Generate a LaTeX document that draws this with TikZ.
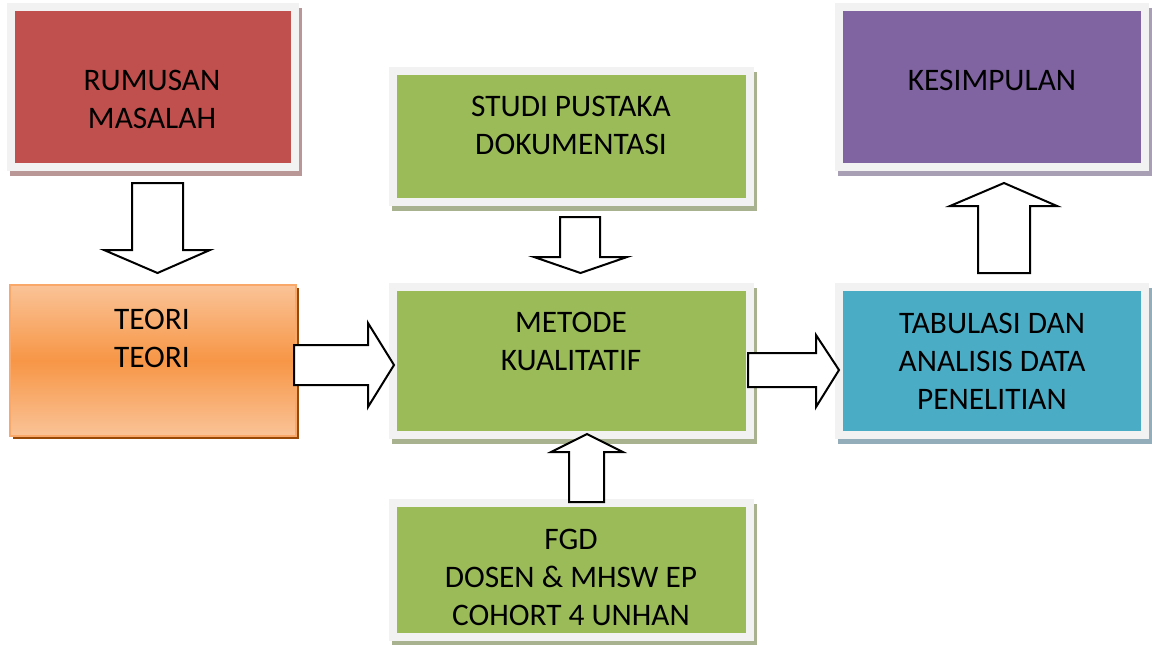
\documentclass[tikz,border=0pt]{standalone}
\usepackage{fontspec}
\setmainfont{Carlito}
\definecolor{cred}{HTML}{C0504D}
\definecolor{cgreen}{HTML}{9BBB59}
\definecolor{cblue}{HTML}{4BACC6}
\definecolor{cpurple}{HTML}{8064A2}
\definecolor{cframe}{HTML}{F2F2F2}
\definecolor{corange}{HTML}{F79646}
\definecolor{clorange}{HTML}{FAC397}
\definecolor{cborder}{HTML}{F9A86A}
\definecolor{cbrown}{HTML}{984807}
\definecolor{sred}{HTML}{B99797}
\definecolor{sgreen}{HTML}{A9B28F}
\definecolor{sblue}{HTML}{94ADBA}
\definecolor{spurple}{HTML}{A89FB4}
\begin{document}
\begin{tikzpicture}[x=0.75pt,y=-0.75pt,
  framebox/.style={rectangle, draw=cframe, line width=6pt, inner sep=0pt,
    preaction={draw=#1, fill=#1, line width=6pt, transform canvas={shift={(2.5pt,-3.5pt)}}}},
  txt/.style={align=center, font=\fontsize{23.5}{28.5}\selectfont, inner sep=0pt},
  blockarrow/.style={draw=black, fill=white, line width=1.5pt, line join=miter}]
\useasboundingbox (0,0) rectangle (1152,644);
% boxes
\node[framebox=sred, fill=cred, minimum width=284*0.75pt, minimum height=160*0.75pt] (rumusan) at (153,87) {};
\node[framebox=spurple, fill=cpurple, minimum width=306*0.75pt, minimum height=160*0.75pt] (kesimpulan) at (992,87) {};
\node[framebox=sgreen, fill=cgreen, minimum width=357*0.75pt, minimum height=131*0.75pt] (studi) at (571.5,136.5) {};
\node[framebox=sgreen, fill=cgreen, minimum width=357*0.75pt, minimum height=148*0.75pt] (metode) at (571.5,361) {};
\node[framebox=sgreen, fill=cgreen, minimum width=357*0.75pt, minimum height=134*0.75pt] (fgd) at (571.5,570) {};
\node[framebox=sblue, fill=cblue, minimum width=306*0.75pt, minimum height=148*0.75pt] (tabulasi) at (992,361) {};
\node[rectangle, inner sep=0pt, draw=cborder, line width=1.2pt,
  top color=clorange, bottom color=clorange, middle color=corange,
  minimum width=286*0.75pt, minimum height=151*0.75pt,
  preaction={fill=cbrown, transform canvas={shift={(2pt,-2.5pt)}}}] (teori) at (153,360.5) {};
% texts
\node[txt] (t1) at (152,99) {RUMUSAN\\MASALAH};
\node[txt] (t2) at (152,338.5) {TEORI\\TEORI};
\node[txt] (t3) at (571,125.5) {STUDI PUSTAKA\\DOKUMENTASI};
\node[txt] (t4) at (571,341) {METODE\\KUALITATIF};
\node[txt] (t5) at (571,577) {FGD\\DOSEN \& MHSW EP\\COHORT 4 UNHAN};
\node[txt] (t6) at (992,361) {TABULASI DAN\\ANALISIS DATA\\PENELITIAN};
\node[txt] (t7) at (992,80) {KESIMPULAN};
% block arrows
\draw[blockarrow] (132,183) -- (183,183) -- (183,250) -- (210,250) -- (157.5,273) -- (104,250) -- (132,250) -- cycle;
\draw[blockarrow] (294,345) -- (368,345) -- (368,323) -- (394,365) -- (368,407) -- (368,385) -- (294,385) -- cycle;
\draw[blockarrow] (560,217) -- (600,217) -- (600,257) -- (627,257) -- (580.5,273) -- (534,257) -- (560,257) -- cycle;
\draw[blockarrow] (569,502) -- (604,502) -- (604,452) -- (623,452) -- (587,434) -- (551,452) -- (569,452) -- cycle;
\draw[blockarrow] (748,353) -- (816,353) -- (816,335) -- (839,370) -- (816,407) -- (816,387) -- (748,387) -- cycle;
\draw[blockarrow] (978,273) -- (1030,273) -- (1030,206) -- (1057,206) -- (1004,183) -- (950,206) -- (978,206) -- cycle;
\end{tikzpicture}
\end{document}
